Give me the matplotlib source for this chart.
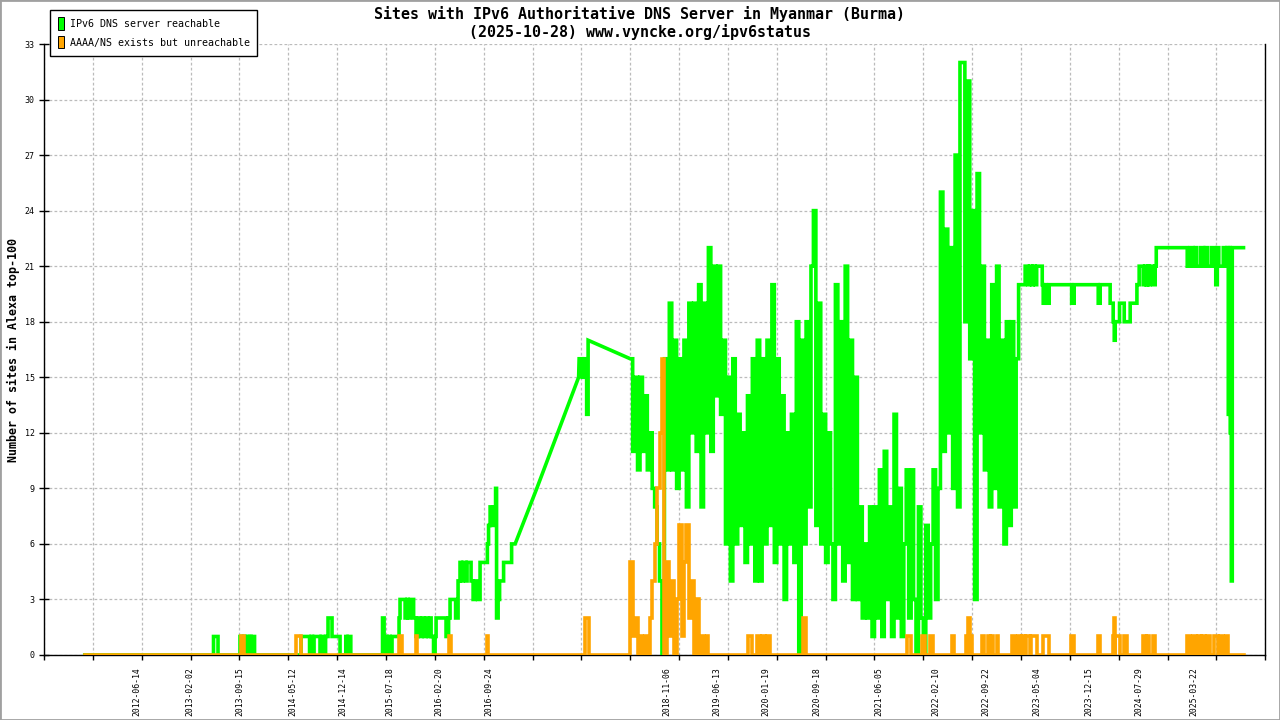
import numpy as np
import matplotlib
matplotlib.use("Agg")
import matplotlib.pyplot as plt
from matplotlib.patches import Patch, Rectangle
from matplotlib.ticker import MultipleLocator

# x axis = observation index (one tick every 50 samples)
label_x = [95.0, 149.7, 200.2, 254.9, 305.5, 354.0, 404.6, 455.1,
           637.5, 688.6, 739.1, 791.0, 854.8, 912.8, 964.0, 1016.2,
           1069.1, 1120.2, 1176.5]
label_text = ["2012-06-14", "2013-02-02", "2013-09-15", "2014-05-12",
              "2014-12-14", "2015-07-18", "2016-02-20", "2016-09-24",
              "2018-11-06", "2019-06-13", "2020-01-19", "2020-09-18",
              "2021-06-05", "2022-02-10", "2022-09-22", "2023-05-04",
              "2023-12-15", "2024-07-29", "2025-03-22"]

# reachable: early period (value holds until next change)
early_x = [41.7, 173.5, 178.1, 200.6, 202.7, 204.2, 206.3, 207.3, 209.3,
           210.4, 211.9, 212.9, 215.5, 263.1, 271.8, 273.3, 274.9, 276.4,
           282.5, 283.6, 286.6, 288.2, 290.7, 294.8, 303.0, 308.9, 310.2,
           311.2, 314.0, 346.5, 348.1, 349.6, 351.1, 352.7, 354.2, 356.2,
           363.4, 364.4, 369.6, 371.6, 372.6, 374.7, 378.3, 380.8, 382.9,
           384.9, 387.0, 389.0, 391.1, 393.1, 395.1, 396.2, 398.7, 400.3,
           401.3, 411.5, 414.1, 415.6, 421.3, 423.8, 425.8, 427.4, 428.9,
           432.0, 433.0, 437.1, 439.2, 441.2, 443.8, 446.3, 452.5, 453.8,
           455.0, 456.6, 458.6, 460.2, 462.2, 463.2, 464.8, 466.3, 470.4,
           478.6, 482.2]
early_y = [0, 1, 0, 1, 0, 1, 0, 1, 0,
           1, 0, 1, 0, 1, 0, 1, 0, 1,
           0, 1, 0, 1, 2, 1, 0, 1, 0,
           1, 0, 2, 0, 1, 0, 1, 0, 1,
           2, 3, 2, 3, 2, 3, 2, 1, 2,
           1, 2, 1, 2, 1, 2, 1, 0, 1,
           2, 1, 2, 3, 2, 4, 5, 4, 5,
           4, 5, 4, 3, 4, 3, 5, 5, 6,
           7, 8, 7, 8, 9, 2, 3, 4, 5,
           6, 6]

# sparse data (no daily samples): straight lines
ramp_x = [504.4, 547.2]
ramp_y = [9, 15]
peak_x = [547.7, 550.8, 552.8, 555.4, 556.9]
peak_y = [16, 15, 16, 13, 17]

# daily samples, every 2.5 index units from 600 to 1000
dense_start = 600.0
dense_step = 2.5
green_dense = [16, 11, 15, 10, 15, 11, 14, 10, 12, 9,
               8, 6, 4, 0, 16, 10, 19, 10, 17, 9,
               16, 10, 17, 8, 19, 12, 19, 11, 20, 8,
               19, 12, 22, 11, 21, 14, 21, 13, 17, 6,
               15, 4, 16, 6, 13, 7, 12, 5, 14, 6,
               16, 4, 17, 4, 16, 6, 17, 7, 20, 5,
               16, 6, 14, 3, 12, 6, 13, 5, 18, 0,
               17, 6, 18, 8, 21, 24, 7, 19, 6, 13,
               5, 12, 6, 3, 20, 6, 18, 4, 21, 5,
               17, 3, 15, 3, 8, 2, 6, 2, 8, 1,
               8, 2, 10, 1, 11, 3, 8, 1, 13, 2,
               9, 1, 6, 10, 2, 10, 3, 0, 8, 2,
               0, 7, 2, 6, 10, 3, 9, 25, 11, 23,
               12, 22, 9, 27, 8, 32, 32, 18, 31, 16,
               24, 3, 26, 12, 21, 10, 17, 8, 20, 9,
               21, 8, 17, 6, 18, 7, 18, 8, 16, 20,
               20]
orange_dense = [0, 5, 1, 2, 0, 1, 0, 1, 0, 2, 4, 6, 9, 12, 16, 0,
                5, 1, 4, 0, 3, 7, 1, 5, 7, 2, 4, 0, 3, 0]

tail_x = [1002.5, 1004.2, 1007.3, 1008.8, 1010.9, 1012.4, 1014.5, 1016.0,
          1021.7, 1022.7, 1024.7, 1025.8, 1028.8, 1051.8, 1054.4, 1079.0,
          1081.0, 1091.2, 1094.3, 1095.4, 1096.4, 1100.8, 1105.6, 1111.7,
          1118.6, 1120.9, 1125.0, 1126.6, 1128.1, 1129.6, 1130.7, 1132.2,
          1135.3, 1137.3, 1138.4, 1170.1, 1173.2, 1176.2, 1178.3, 1179.3,
          1183.4, 1187.0, 1188.5, 1190.6, 1194.7, 1197.8, 1199.3, 1200.9,
          1202.4, 1207.0, 1209.0, 1210.6, 1212.1, 1213.1, 1214.1, 1215.2,
          1216.2, 1227.7]
tail_y = [20, 21, 20, 21, 20, 21, 20, 21,
          20, 19, 20, 19, 20, 19, 20, 19,
          20, 19, 18, 17, 18, 19, 18, 19,
          20, 21, 20, 21, 20, 21, 20, 21,
          20, 21, 22, 21, 22, 21, 22, 21,
          22, 21, 22, 21, 22, 21, 20, 22,
          21, 22, 21, 22, 13, 22, 12, 4,
          22, 22]

# unreachable: short excursions (start, end, level)
orange_start, orange_end = 41.7, 1227.7
pulses_before = [(201.3, 204.7, 1), (258.0, 262.8, 1), (363.4, 366.5, 1),
                 (380.3, 381.8, 1), (414.1, 416.1, 1), (453.0, 454.5, 1),
                 (553.8, 557.4, 2)]
pulses_after = [(673.3, 675.7, 1), (678.4, 680.0, 1), (720.7, 724.5, 1),
                (729.6, 733.0, 1), (735.0, 738.1, 1), (740.1, 743.2, 1),
                (777.3, 779.4, 2), (883.5, 886.9, 1), (898.8, 901.9, 1),
                (907.0, 910.1, 1), (929.5, 931.1, 1), (943.3, 945.8, 1),
                (945.8, 947.9, 2), (947.9, 949.5, 1), (959.7, 961.8, 1),
                (966.4, 968.5, 1), (969.4, 971.5, 1), (975.1, 976.6, 1),
                (990.4, 994.0, 1), (996.6, 1000.2, 1), (1001.2, 1004.3, 1),
                (1005.3, 1009.4, 1), (1010.4, 1016.0, 1), (1022.7, 1028.8, 1),
                (1051.1, 1054.4, 1), (1079.0, 1081.0, 1), (1094.3, 1095.4, 1),
                (1095.4, 1096.4, 2), (1096.4, 1100.8, 1), (1105.6, 1108.7, 1),
                (1125.0, 1128.1, 1), (1129.1, 1131.2, 1), (1135.3, 1137.3, 1),
                (1170.1, 1173.2, 1), (1176.2, 1179.3, 1), (1180.8, 1183.9, 1),
                (1185.5, 1188.5, 1), (1190.6, 1193.7, 1), (1197.8, 1201.9, 1),
                (1203.9, 1207.0, 1), (1210.1, 1212.1, 1)]


def steps(xs, ys):
    px, py = [xs[0]], [ys[0]]
    for i in range(1, len(xs)):
        px += [xs[i], xs[i]]
        py += [ys[i - 1], ys[i]]
    return px, py


def pulse_steps(pulses):
    px, py = [], []
    for x0, x1, h in pulses:
        px += [x0, x0, x1, x1]
        py += [0, h, h, 0]
    return px, py


dense_x = [dense_start + dense_step * i for i in range(len(green_dense))]
odense_x = [dense_start - dense_step + dense_step * i for i in range(len(orange_dense))]

gx, gy = steps(early_x, early_y)
gx += ramp_x
gy += ramp_y
a, b = steps(peak_x, peak_y)
gx += a
gy += b
a, b = steps(dense_x, green_dense)
gx += a
gy += b
a, b = steps(tail_x, tail_y)
gx += a
gy += b

ox, oy = [orange_start], [0]
a, b = pulse_steps(pulses_before)
ox += a
oy += b
a, b = steps(odense_x, orange_dense)
ox += a
oy += b
a, b = pulse_steps(pulses_after)
ox += a + [orange_end]
oy += b + [0]

mono = "DejaVu Sans Mono"
fig = plt.figure(figsize=(12.8, 7.2), dpi=100)
ax = fig.add_axes([44 / 1280, 65 / 720, 1221.3 / 1280, 611 / 720])

ax.plot(gx, gy, color="#00ff00", lw=2.6, solid_joinstyle="miter", zorder=3)
ax.plot(ox, oy, color="#ffa500", lw=2.6, solid_joinstyle="miter", zorder=4)

ax.set_xlim(0, 1250)
ax.set_ylim(0, 33)
ax.set_yticks(np.arange(0, 34, 3))
ax.set_xticks(label_x)
ax.set_xticklabels(label_text, rotation=90, family=mono, fontsize=5.9)
ax.xaxis.set_minor_locator(MultipleLocator(50))
ax.tick_params(axis="x", which="major", length=0, pad=8.5)
ax.tick_params(axis="x", which="minor", length=3.6, width=1, direction="out")
ax.tick_params(axis="y", length=7.2, width=1, direction="inout", pad=3,
               labelsize=6)
for t in ax.get_yticklabels():
    t.set_family(mono)

grid_kw = dict(color="#bbbbbb", lw=0.9, linestyle=(0, (2.2, 1.8)))
ax.grid(which="minor", axis="x", **grid_kw)
ax.grid(which="major", axis="y", **grid_kw)
ax.set_axisbelow(True)

ax.spines["top"].set_visible(False)
for s in ("left", "bottom", "right"):
    ax.spines[s].set_linewidth(1)

fig.text(0.5, 1 - 14 / 720, "Sites with IPv6 Authoritative DNS Server in Myanmar (Burma)",
         ha="center", va="center", family=mono, fontsize=10.8, fontweight="bold")
fig.text(0.5, 1 - 32 / 720, "(2025-10-28) www.vyncke.org/ipv6status",
         ha="center", va="center", family=mono, fontsize=10.8, fontweight="bold")
fig.text(13 / 1280, 1 - 350 / 720, "Number of sites in Alexa top-100",
         rotation=90, ha="center", va="center", family=mono,
         fontsize=8.4, fontweight="bold")

handles = [Patch(facecolor="#00ff00", edgecolor="black", lw=0.7),
           Patch(facecolor="#ffa500", edgecolor="black", lw=0.7)]
leg = fig.legend(handles, ["IPv6 DNS server reachable", "AAAA/NS exists but unreachable"],
                 loc="upper left", bbox_to_anchor=(50 / 1280, 1 - 10 / 720),
                 frameon=True, fancybox=False, edgecolor="black", framealpha=1,
                 borderpad=0.75, borderaxespad=0, handlelength=0.6, handleheight=1.5,
                 handletextpad=0.6, labelspacing=0.65,
                 prop=dict(family=mono, size=7.2))
leg.get_frame().set_linewidth(1)

fig.add_artist(Rectangle((0, 0), 1, 1, transform=fig.transFigure, fill=False,
                         edgecolor="#a0a0a0", lw=2))

fig.savefig("out.png", dpi=100)
